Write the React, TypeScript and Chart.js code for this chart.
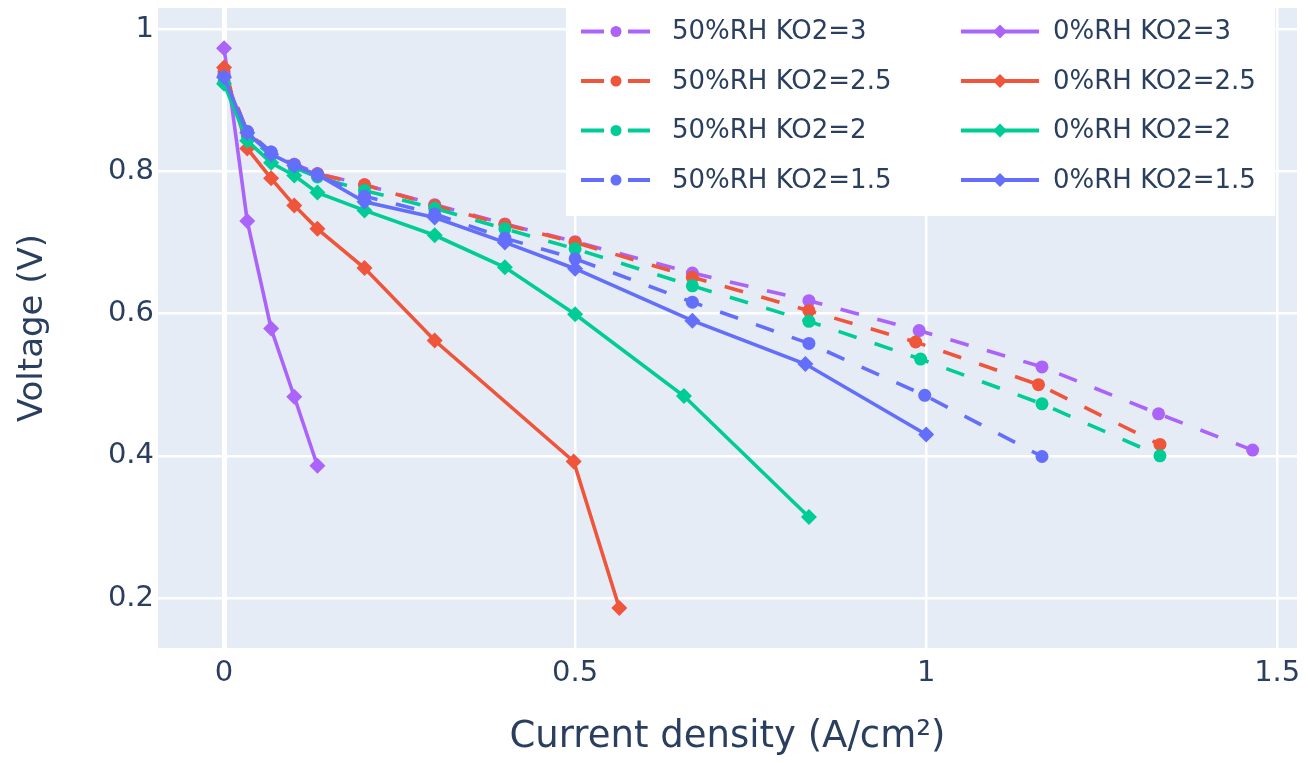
import React, { useEffect, useRef } from "react";
import { Chart, registerables } from "chart.js";

Chart.register(...registerables);

// ---- axis ticks ----
const xTicks = [0, 0.5, 1, 1.5];
const xTickLabels = ["0", "0.5", "1", "1.5"];
const yTicks = [0.2, 0.4, 0.6, 0.8, 1];
const yTickLabels = ["0.2", "0.4", "0.6", "0.8", "1"];

// ---- series labels & colours ----
const seriesLabels = [
  "50%RH KO2=3",
  "50%RH KO2=2.5",
  "50%RH KO2=2",
  "50%RH KO2=1.5",
  "0%RH KO2=3",
  "0%RH KO2=2.5",
  "0%RH KO2=2",
  "0%RH KO2=1.5",
];
const seriesColors = ["#ab63fa", "#EF553B", "#00cc96", "#636efa", "#ab63fa", "#EF553B", "#00cc96", "#636efa"];
const seriesDashed = [true, true, true, true, false, false, false, false];

// ---- 50%RH data (current density A/cm², voltage V) ----
const x50_3 = [0, 0.033, 0.067, 0.1, 0.133, 0.2, 0.3, 0.4, 0.5, 0.667, 0.833, 0.99, 1.165, 1.331, 1.465];
const v50_3 = [0.935, 0.856, 0.827, 0.81, 0.797, 0.781, 0.753, 0.726, 0.701, 0.657, 0.618, 0.576, 0.525, 0.459, 0.408];
const x50_25 = [0, 0.033, 0.067, 0.1, 0.133, 0.2, 0.3, 0.4, 0.5, 0.667, 0.833, 0.985, 1.16, 1.333];
const v50_25 = [0.94, 0.855, 0.826, 0.809, 0.796, 0.781, 0.752, 0.725, 0.7, 0.651, 0.604, 0.56, 0.5, 0.416];
const x50_2 = [0, 0.033, 0.067, 0.1, 0.133, 0.2, 0.3, 0.4, 0.5, 0.667, 0.833, 0.992, 1.165, 1.333];
const v50_2 = [0.925, 0.85, 0.822, 0.805, 0.792, 0.773, 0.748, 0.719, 0.691, 0.639, 0.589, 0.536, 0.473, 0.4];
const x50_15 = [0, 0.033, 0.067, 0.1, 0.133, 0.2, 0.3, 0.4, 0.5, 0.667, 0.833, 0.998, 1.165];
const v50_15 = [0.935, 0.856, 0.827, 0.809, 0.795, 0.765, 0.74, 0.706, 0.677, 0.616, 0.558, 0.485, 0.399];

// ---- 0%RH data ----
const x0_3 = [0, 0.033, 0.067, 0.1, 0.133];
const v0_3 = [0.973, 0.73, 0.579, 0.483, 0.386];
const x0_25 = [0, 0.033, 0.067, 0.1, 0.133, 0.2, 0.3, 0.498, 0.563];
const v0_25 = [0.946, 0.832, 0.79, 0.752, 0.719, 0.664, 0.562, 0.392, 0.186];
const x0_2 = [0, 0.033, 0.067, 0.1, 0.133, 0.2, 0.3, 0.4, 0.5, 0.655, 0.833];
const v0_2 = [0.923, 0.843, 0.812, 0.794, 0.77, 0.745, 0.71, 0.665, 0.599, 0.484, 0.314];
const x0_15 = [0, 0.033, 0.067, 0.1, 0.133, 0.2, 0.3, 0.4, 0.5, 0.667, 0.828, 1.0];
const v0_15 = [0.932, 0.854, 0.824, 0.808, 0.795, 0.757, 0.735, 0.7, 0.663, 0.59, 0.529, 0.43];

const seriesX = [x50_3, x50_25, x50_2, x50_15, x0_3, x0_25, x0_2, x0_15];
const seriesV = [v50_3, v50_25, v50_2, v50_15, v0_3, v0_25, v0_2, v0_15];

const FONT = "'DejaVu Sans', Verdana, sans-serif";
const TEXT_COLOR = "#2a3f5f";
const PLOT_BG = "#E5ECF6";

const plotBgPlugin = {
  id: "plotBg",
  beforeDraw(chart: any) {
    const { ctx, chartArea: a } = chart;
    ctx.save();
    ctx.fillStyle = PLOT_BG;
    ctx.fillRect(a.left, a.top, a.right - a.left, a.bottom - a.top);
    ctx.restore();
  },
};

function drawMarker(ctx: CanvasRenderingContext2D, style: string, x: number, y: number, r: number, color: string) {
  ctx.fillStyle = color;
  ctx.beginPath();
  if (style === "circle") {
    ctx.arc(x, y, r, 0, Math.PI * 2);
  } else {
    ctx.moveTo(x, y - r);
    ctx.lineTo(x + r, y);
    ctx.lineTo(x, y + r);
    ctx.lineTo(x - r, y);
    ctx.closePath();
  }
  ctx.fill();
}

const legendPlugin = {
  id: "customLegend",
  afterDraw(chart: any) {
    const ctx: CanvasRenderingContext2D = chart.ctx;
    const ds = chart.data.datasets;
    ctx.save();
    ctx.fillStyle = "#ffffff";
    ctx.fillRect(566, 5, 709, 211);
    const rowY = [31.5, 81, 130.5, 180];
    ctx.font = `26px ${FONT}`;
    ctx.textBaseline = "middle";
    ctx.textAlign = "left";
    ds.forEach((d: any, i: number) => {
      const col = i < 4 ? 0 : 1;
      const row = i % 4;
      const y = rowY[row];
      ctx.strokeStyle = d.borderColor;
      ctx.lineWidth = 4;
      ctx.setLineDash([]);
      if (col === 0) {
        ctx.beginPath();
        ctx.moveTo(581, y);
        ctx.lineTo(604, y);
        ctx.moveTo(628, y);
        ctx.lineTo(650, y);
        ctx.stroke();
        drawMarker(ctx, "circle", 616, y, 5.5, d.borderColor);
        ctx.fillStyle = TEXT_COLOR;
        ctx.fillText(d.label, 672, y + 1);
      } else {
        ctx.beginPath();
        ctx.moveTo(961, y);
        ctx.lineTo(1039, y);
        ctx.stroke();
        drawMarker(ctx, "diamond", 1000, y, 7, d.borderColor);
        ctx.fillStyle = TEXT_COLOR;
        ctx.fillText(d.label, 1053, y + 1);
      }
    });
    ctx.restore();
  },
};

export default function App() {
  const ref = useRef<HTMLCanvasElement>(null);

  useEffect(() => {
    document.body.style.margin = "0";
    if (!ref.current) return;
    const n = seriesLabels.length;
    const datasets = seriesLabels.map((label, i) => ({
      label,
      data: seriesX[i].map((x, j) => ({ x, y: seriesV[i][j] })),
      borderColor: seriesColors[i],
      backgroundColor: seriesColors[i],
      pointBackgroundColor: seriesColors[i],
      borderWidth: 3.6,
      borderDash: seriesDashed[i] ? [19, 19] : [],
      pointStyle: seriesDashed[i] ? "circle" : "rectRot",
      pointRadius: seriesDashed[i] ? 6.5 : 8,
      pointBorderWidth: 0,
      pointHoverRadius: 6,
      showLine: true,
      tension: 0,
      order: n - i,
    }));

    const chart = new Chart(ref.current, {
      type: "scatter",
      data: { datasets },
      options: {
        animation: false,
        responsive: true,
        maintainAspectRatio: false,
        layout: { padding: { top: 7, right: 11, left: 0, bottom: 0 } },
        plugins: { legend: { display: false }, tooltip: { enabled: false } },
        scales: {
          x: {
            type: "linear",
            min: -0.0941,
            max: 1.5282,
            afterBuildTicks: (s: any) => {
              s.ticks = xTicks.map((v) => ({ value: v }));
            },
            afterFit: (s: any) => {
              s.height = 115;
              s.paddingLeft = 0;
              s.paddingRight = 0;
            },
            ticks: {
              callback: (_v: any, i: number) => xTickLabels[i],
              font: { family: FONT, size: 29 },
              color: TEXT_COLOR,
              padding: 8,
              maxRotation: 0,
              autoSkip: false,
            },
            grid: {
              color: "#ffffff",
              lineWidth: (c: any) => (c.tick && c.tick.value === 0 ? 5 : 2.5),
              drawTicks: false,
            },
            border: { display: false },
            title: {
              display: true,
              text: "Current density (A/cm²)",
              font: { family: FONT, size: 37 },
              color: TEXT_COLOR,
              padding: { top: 0, bottom: 3 },
            },
          },
          y: {
            type: "linear",
            min: 0.1298,
            max: 1.0295,
            afterBuildTicks: (s: any) => {
              s.ticks = yTicks.map((v) => ({ value: v }));
            },
            afterFit: (s: any) => {
              s.width = 158;
              s.paddingTop = 0;
              s.paddingBottom = 0;
            },
            ticks: {
              callback: (_v: any, i: number) => yTickLabels[i],
              font: { family: FONT, size: 29 },
              color: TEXT_COLOR,
              padding: 4,
              autoSkip: false,
            },
            grid: {
              color: "#ffffff",
              lineWidth: 2.5,
              drawTicks: false,
            },
            border: { display: false },
            title: {
              display: true,
              text: "Voltage (V)",
              font: { family: FONT, size: 34 },
              color: TEXT_COLOR,
              padding: { top: 13, bottom: 0 },
            },
          },
        },
      },
      plugins: [plotBgPlugin, legendPlugin],
    });
    return () => chart.destroy();
  }, []);

  return (
    <div style={{ width: 1308, height: 763, position: "relative", background: "#ffffff" }}>
      <canvas ref={ref} />
    </div>
  );
}
